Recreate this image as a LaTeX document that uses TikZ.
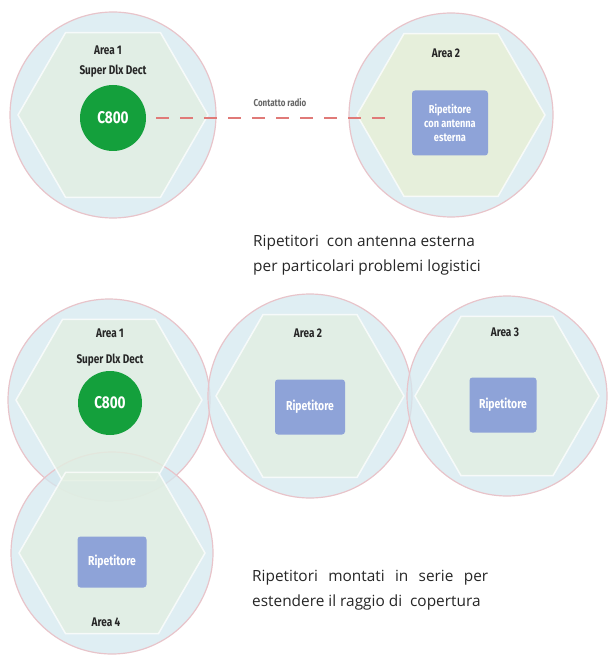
\documentclass[tikz,border=0pt]{standalone}
\usepackage{fontspec}
\setmainfont{Open Sans}
\newfontfamily\lblfont[FakeStretch=0.8]{Fira Sans}
\usetikzlibrary{shapes.geometric}
\definecolor{cellblue}{HTML}{D4E8EF}
\definecolor{circline}{HTML}{E8C4CA}
\definecolor{hexgreen}{HTML}{E2EFE2}
\definecolor{hexyellow}{HTML}{E9F0D6}
\definecolor{repblue}{HTML}{8EA3D8}
\definecolor{basegreen}{HTML}{14A03C}
\definecolor{radiored}{HTML}{E07A78}
\tikzset{
  cell/.style={circle, draw=circline, line width=1.2pt, fill=cellblue, fill opacity=0.75, minimum size=#1, inner sep=0pt},
  hexa/.style={regular polygon, regular polygon sides=6, minimum size=#1, inner sep=0pt, fill=hexgreen, fill opacity=0.8, draw=white, draw opacity=0.75, line width=1.5pt},
  rep/.style={rectangle, rounded corners=3pt, fill=repblue, text=white, font=\lblfont\bfseries\fontsize{13}{15}\selectfont, align=center, inner sep=0pt},
  basest/.style={circle, fill=basegreen, minimum size=66pt, inner sep=0pt, text=white, font=\lblfont\bfseries\fontsize{17}{17}\selectfont},
  lbl/.style={font=\lblfont\bfseries\fontsize{12.5}{14}\selectfont, text=black!85},
  captxt/.style={font=\fontsize{15.4}{25}\selectfont, align=left, anchor=west, text=black!85, inner sep=0pt},
  radio/.style={draw=radiored, line width=1.6pt, dash pattern=on 13pt off 11pt},
  radiolbl/.style={font=\lblfont\bfseries\fontsize{10}{12}\selectfont, text=black!60}
}
\begin{document}
\begin{tikzpicture}[x=1pt, y=-1pt]
\useasboundingbox (0,0) rectangle (610,655);
% ---------- top row ----------
\node[cell=206pt] (tc1) at (113,115) {};
\node[cell=204pt] (tc2) at (451,115) {};
\node[hexa=190pt] (th1) at (113,115) {};
\node[hexa=188pt, fill=hexyellow] (th2) at (451,115) {};
\node[lbl] (ta1) at (108,50) {Area 1};
\node[lbl] (tsd) at (113,71) {Super Dlx Dect};
\node[basest] (tg1) at (113,118) {C800};
\node[lbl] (ta2) at (446,53) {Area 2};
\node[rep, minimum width=76pt, minimum height=65pt, font=\lblfont\bfseries\fontsize{11.5}{14}\selectfont] (tb2) at (450,123) {Ripetitore\\con antenna\\esterna};
\draw[radio, shorten <=10pt, shorten >=16pt] (tg1.east) -- (tg1.east -| tb2.west);
\node[radiolbl] (rl) at (280,103) {Contatto radio};
\node[captxt] (cap1) at (253,255) {Ripetitori\ \ con antenna esterna\\per particolari problemi logistici};
% ---------- bottom row ----------
\node[cell=202pt] (bc1) at (109,400) {};
\node[cell=204pt] (bc2) at (310,396) {};
\node[cell=200pt] (bc3) at (507,396) {};
\node[cell=202pt] (bc4) at (112,553) {};
\node[hexa=186pt] (bh1) at (109,400) {};
\node[hexa=188pt] (bh2) at (310,396) {};
\node[hexa=184pt] (bh3) at (507,396) {};
\node[hexa=186pt] (bh4) at (112,553) {};
\node[lbl] (ba1) at (110,333) {Area 1};
\node[lbl] (bsd) at (110,360) {Super Dlx Dect};
\node[basest, minimum size=64pt] (bg1) at (110,403) {C800};
\node[lbl] (ba2) at (308,333) {Area 2};
\node[rep, minimum width=70pt, minimum height=55pt] (bb2) at (310,407) {Ripetitore};
\node[lbl] (ba3) at (505,332) {Area 3};
\node[rep, minimum width=67pt, minimum height=55pt] (bb3) at (503,405) {Ripetitore};
\node[rep, minimum width=69pt, minimum height=51pt] (bb4) at (112,562) {Ripetitore};
\node[lbl] (ba4) at (106,622) {Area 4};
\node[captxt] (cap2) at (252,590) {\makebox[236pt][s]{Ripetitori montati in serie per}\\estendere il raggio di\ \ copertura};
\end{tikzpicture}
\end{document}
